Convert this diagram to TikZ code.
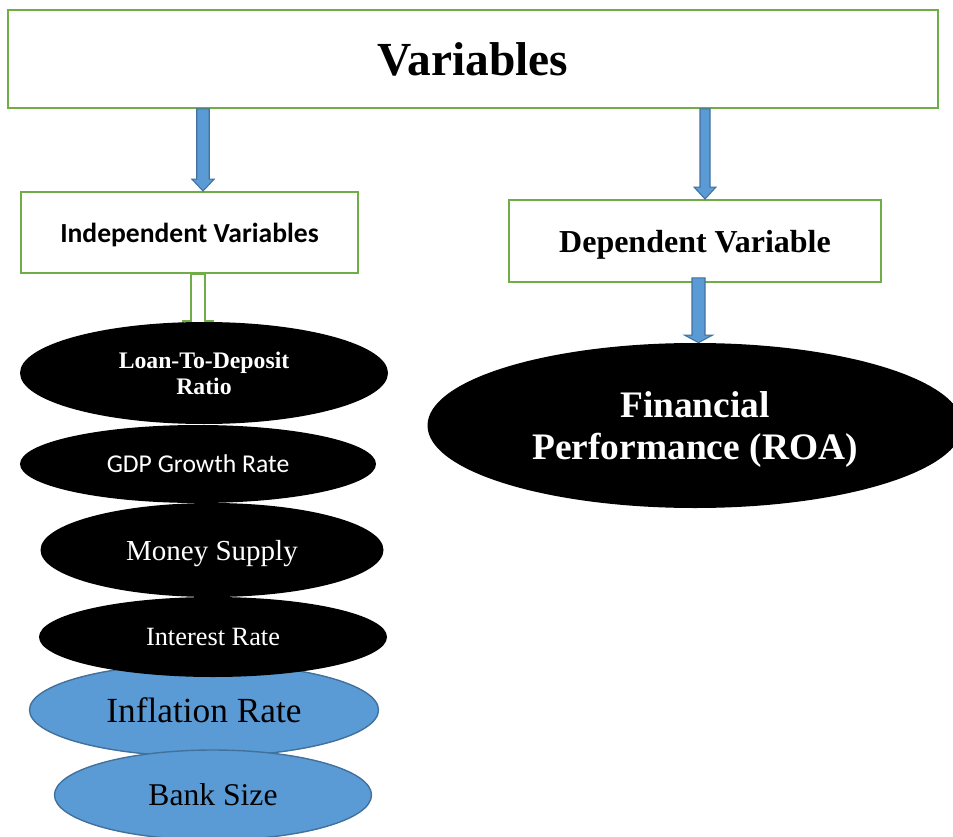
\documentclass[tikz,border=0pt]{standalone}
\usepackage{fontspec}
\setmainfont{Liberation Serif}
\newfontfamily\calibri{Carlito}
\usetikzlibrary{shapes.geometric,calc}
\definecolor{boxgreen}{HTML}{70AD47}
\definecolor{arrowblue}{HTML}{5B9BD5}
\definecolor{arrowedge}{HTML}{41719C}

% block arrow: from, to, half shaft, half head, head length
\newcommand{\blockarrow}[5]{%
\coordinate (ba) at (#1);
\coordinate (bb) at (#2);
\filldraw[fill=arrowblue,draw=arrowedge,line width=0.6pt] ($(ba)+(-#3,0)$) -- ($(bb)+(-#3,#5)$) -- ($(bb)+(-#4,#5)$) -- (bb) -- ($(bb)+(#4,#5)$) -- ($(bb)+(#3,#5)$) -- ($(ba)+(#3,0)$) -- cycle;}

\begin{document}
\begin{tikzpicture}[
  greenbox/.style={draw=boxgreen,line width=1.1pt,fill=white,inner sep=0pt,text depth=0pt},
  blackoval/.style={ellipse,fill=black,text=white,inner sep=0pt,align=center,text depth=0pt},
  blueoval/.style={ellipse,fill=arrowblue,draw=arrowedge,line width=0.8pt,inner sep=0pt,align=center,text depth=0pt}]
\useasboundingbox (0,0) rectangle (19.06,-16.72);

% boxes
\node[greenbox,minimum width=18.6cm,minimum height=1.96cm,font=\fontsize{27}{32}\selectfont\bfseries] (var) at (9.46,-1.18) {Variables};
\node[greenbox,minimum width=6.74cm,minimum height=1.62cm,font=\calibri\fontsize{15.7}{19}\selectfont\bfseries] (indep) at (3.79,-4.65) {Independent Variables};
\node[greenbox,minimum width=7.44cm,minimum height=1.64cm,font=\fontsize{18.2}{22}\selectfont\bfseries] (dep) at (13.9,-4.82) {Dependent Variable};

% arrows from the top box
\coordinate (l1) at (4.06,0);
\coordinate (l2) at (14.1,0);
\coordinate (l3) at (13.97,0);
\coordinate (l0) at (3.96,0);
\blockarrow{var.south -| l1}{indep.north -| l1}{0.125}{0.225}{0.24}
\blockarrow{var.south -| l2}{dep.north -| l2}{0.1}{0.22}{0.24}

% hollow link
\draw[boxgreen,line width=1.1pt,fill=white] ($(indep.south -| l0)+(-0.14,0)$) -- ++(0,-0.94) -- ++(-0.16,0) -- ++(0,-0.2) -- ++(0.6,0) -- ++(0,0.2) -- ++(-0.16,0) -- ++(0,0.94) -- cycle;

% independent variables
\node[blackoval,minimum width=7.36cm,minimum height=2.04cm,font=\fontsize{13.5}{14.8}\selectfont\bfseries] (ltd) at (4.08,-7.46) {Loan-To-Deposit\\ Ratio};
\node[blackoval,minimum width=7.12cm,minimum height=1.56cm,font=\calibri\fontsize{14.6}{17}\selectfont] (gdp) at (3.96,-9.28) {GDP Growth Rate};
\node[blackoval,minimum width=6.86cm,minimum height=1.88cm,font=\fontsize{16.5}{20}\selectfont] (money) at (4.24,-11.0) {Money Supply};
\node[blueoval,minimum width=6.98cm,minimum height=1.86cm,font=\fontsize{20.1}{24}\selectfont] (inflation) at (4.08,-14.2) {Inflation Rate};
\node[blackoval,minimum width=6.96cm,minimum height=1.6cm,font=\fontsize{15}{18}\selectfont] (interest) at (4.26,-12.74) {Interest Rate};
\node[blueoval,minimum width=6.34cm,minimum height=1.8cm,font=\fontsize{18}{22}\selectfont] (banksize) at (4.26,-15.9) {Bank Size};

% dependent variable
\node[blackoval,minimum width=10.7cm,minimum height=3.3cm,font=\fontsize{21.3}{23.9}\selectfont\bfseries] (roa) at (13.9,-8.51) {Financial\\ Performance (ROA)};
\blockarrow{$(dep.south -| l3)+(0,0.1)$}{roa.north -| l3}{0.13}{0.28}{0.15}
\end{tikzpicture}
\end{document}
